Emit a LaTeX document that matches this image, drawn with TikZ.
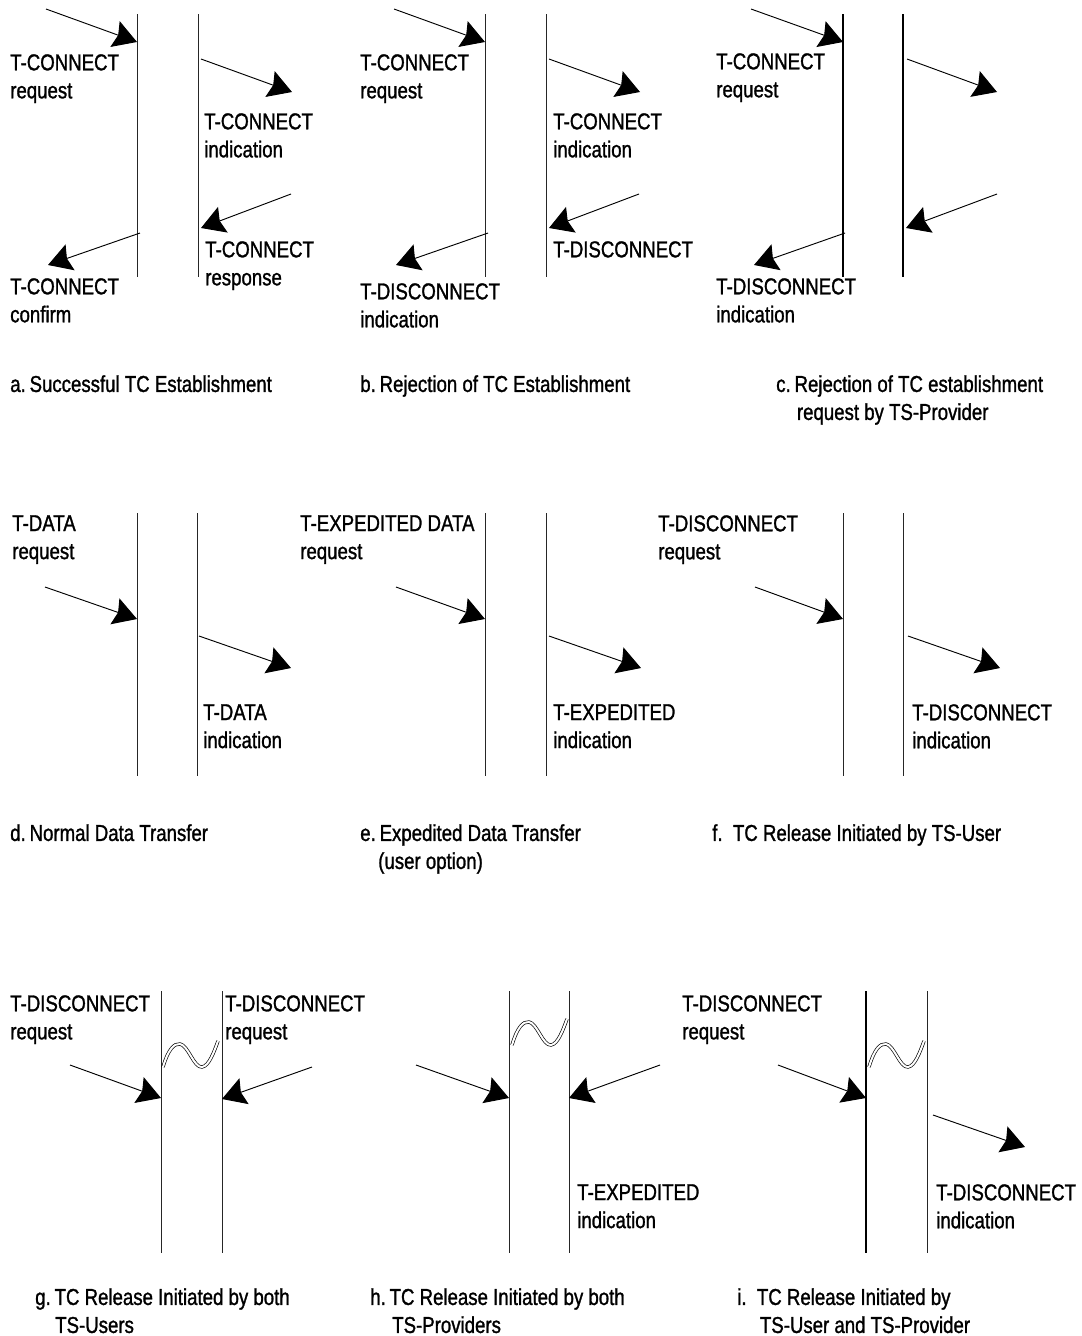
\documentclass[tikz,border=0pt]{standalone}
\usepackage{fontspec}
\setmainfont{Liberation Sans}[FakeStretch=0.81,FakeBold=1.2]
\usetikzlibrary{arrows.meta}
\begin{document}
\begin{tikzpicture}[x=0.75pt,y=-0.75pt,
  life/.style={line width=0.65pt,black!85},
  lifeb/.style={line width=1.6pt},
  msg/.style={line width=0.7pt,-{Stealth[length=17.5pt,width=20.5pt,inset=2.5pt]}},
  lbl/.style={anchor=north west,inner sep=0pt,align=left,font=\fontsize{17.25pt}{21pt}\selectfont},
  wavy/.style={double,double distance=1.5pt,line width=0.5pt}]
\useasboundingbox (0,0) rectangle (1082,1336);

% ---------------- panel a ----------------
\coordinate (aLt) at (137,14); \coordinate (aLb) at (137,277);
\coordinate (aRt) at (198,14); \coordinate (aRb) at (198,277);
\draw[life] (aLt) -- (aLb); \draw[life] (aRt) -- (aRb);
\coordinate (a1s) at (46,9);   \coordinate (a1e) at (137,42);
\coordinate (a2s) at (201,59); \coordinate (a2e) at (292,92);
\coordinate (a3s) at (291,194);\coordinate (a3e) at (201,228);
\coordinate (a4s) at (140,233);\coordinate (a4e) at (48,265);
\draw[msg] (a1s) -- (a1e); \draw[msg] (a2s) -- (a2e);
\draw[msg] (a3s) -- (a3e); \draw[msg] (a4s) -- (a4e);
\node[lbl] (aT1) at (10,54) {T-CONNECT\\request};
\node[lbl] (aT2) at (204,113) {T-CONNECT\\indication};
\node[lbl] (aT3) at (205,241) {T-CONNECT\\response};
\node[lbl] (aT4) at (10,278) {T-CONNECT\\confirm};
\node[lbl] (aCap) at (10,375) {a.\,Successful TC Establishment};

% ---------------- panel b ----------------
\coordinate (bLt) at (485,14); \coordinate (bLb) at (485,277);
\coordinate (bRt) at (546,14); \coordinate (bRb) at (546,277);
\draw[life] (bLt) -- (bLb); \draw[life] (bRt) -- (bRb);
\coordinate (b1s) at (394,9);   \coordinate (b1e) at (485,42);
\coordinate (b2s) at (549,59);  \coordinate (b2e) at (640,92);
\coordinate (b3s) at (639,194); \coordinate (b3e) at (549,228);
\coordinate (b4s) at (488,233); \coordinate (b4e) at (396,265);
\draw[msg] (b1s) -- (b1e); \draw[msg] (b2s) -- (b2e);
\draw[msg] (b3s) -- (b3e); \draw[msg] (b4s) -- (b4e);
\node[lbl] (bT1) at (360,54) {T-CONNECT\\request};
\node[lbl] (bT2) at (553,113) {T-CONNECT\\indication};
\node[lbl] (bT3) at (553,241) {T-DISCONNECT};
\node[lbl] (bT4) at (360,283) {T-DISCONNECT\\indication};
\node[lbl] (bCap) at (360,375) {b.\,Rejection of TC Establishment};

% ---------------- panel c ----------------
\coordinate (cLt) at (843,14); \coordinate (cLb) at (843,277);
\coordinate (cRt) at (903,14); \coordinate (cRb) at (903,277);
\draw[lifeb] (cLt) -- (cLb); \draw[lifeb] (cRt) -- (cRb);
\coordinate (c1s) at (751,9);   \coordinate (c1e) at (843,42);
\coordinate (c2s) at (907,59);  \coordinate (c2e) at (997,92);
\coordinate (c3s) at (997,194); \coordinate (c3e) at (906,228);
\coordinate (c4s) at (845,233); \coordinate (c4e) at (754,265);
\draw[msg] (c1s) -- (c1e); \draw[msg] (c2s) -- (c2e);
\draw[msg] (c3s) -- (c3e); \draw[msg] (c4s) -- (c4e);
\node[lbl] (cT1) at (716,53) {T-CONNECT\\request};
\node[lbl] (cT4) at (716,278) {T-DISCONNECT\\indication};
\node[lbl] (cCap) at (776,375) {c.\,Rejection of TC establishment\\\hspace*{15.5pt}request by TS-Provider};

% ---------------- panel d ----------------
\coordinate (dLt) at (137,513); \coordinate (dLb) at (137,776);
\coordinate (dRt) at (197,513); \coordinate (dRb) at (197,776);
\draw[life] (dLt) -- (dLb); \draw[life] (dRt) -- (dRb);
\coordinate (d1s) at (45,587);  \coordinate (d1e) at (137,619);
\coordinate (d2s) at (199,636); \coordinate (d2e) at (291,668);
\draw[msg] (d1s) -- (d1e); \draw[msg] (d2s) -- (d2e);
\node[lbl] (dT1) at (12,515) {T-DATA\\request};
\node[lbl] (dT2) at (203,704) {T-DATA\\indication};
\node[lbl] (dCap) at (10,824) {d.\,Normal Data Transfer};

% ---------------- panel e ----------------
\coordinate (eLt) at (485,513); \coordinate (eLb) at (485,776);
\coordinate (eRt) at (546,513); \coordinate (eRb) at (546,776);
\draw[life] (eLt) -- (eLb); \draw[life] (eRt) -- (eRb);
\coordinate (e1s) at (396,587); \coordinate (e1e) at (485,619);
\coordinate (e2s) at (549,636); \coordinate (e2e) at (641,668);
\draw[msg] (e1s) -- (e1e); \draw[msg] (e2s) -- (e2e);
\node[lbl] (eT1) at (300,515) {T-EXPEDITED DATA\\request};
\node[lbl] (eT2) at (553,704) {T-EXPEDITED\\indication};
\node[lbl] (eCap) at (360,824) {e.\,Expedited Data Transfer\\\hspace*{13.5pt}(user option)};

% ---------------- panel f ----------------
\coordinate (fLt) at (843,513); \coordinate (fLb) at (843,776);
\coordinate (fRt) at (903,513); \coordinate (fRb) at (903,776);
\draw[life] (fLt) -- (fLb); \draw[life] (fRt) -- (fRb);
\coordinate (f1s) at (755,587); \coordinate (f1e) at (843,619);
\coordinate (f2s) at (908,636); \coordinate (f2e) at (1000,668);
\draw[msg] (f1s) -- (f1e); \draw[msg] (f2s) -- (f2e);
\node[lbl] (fT1) at (658,515) {T-DISCONNECT\\request};
\node[lbl] (fT2) at (912,704) {T-DISCONNECT\\indication};
\node[lbl] (fCap) at (712,824) {f.\ \ TC Release Initiated by TS-User};

% ---------------- panel g ----------------
\coordinate (gLt) at (161,991); \coordinate (gLb) at (161,1253);
\coordinate (gRt) at (222,991); \coordinate (gRb) at (222,1253);
\draw[life] (gLt) -- (gLb); \draw[life] (gRt) -- (gRb);
\coordinate (g1s) at (70,1065);  \coordinate (g1e) at (161,1098);
\coordinate (g2s) at (312,1067); \coordinate (g2e) at (222,1099);
\draw[msg] (g1s) -- (g1e); \draw[msg] (g2s) -- (g2e);
\draw[wavy] (163,1067) .. controls (168,1050) and (174,1043) .. (180,1044)
  .. controls (188,1045) and (194,1068) .. (202,1067)
  .. controls (209,1066) and (214,1052) .. (218,1041);
\node[lbl] (gT1) at (10,995) {T-DISCONNECT\\request};
\node[lbl] (gT2) at (225,995) {T-DISCONNECT\\request};
\node[lbl] (gCap) at (35,1288) {g.\,TC Release Initiated by both\\\hspace*{15pt}TS-Users};

% ---------------- panel h ----------------
\coordinate (hLt) at (509,991); \coordinate (hLb) at (509,1253);
\coordinate (hRt) at (569,991); \coordinate (hRb) at (569,1253);
\draw[life] (hLt) -- (hLb); \draw[life] (hRt) -- (hRb);
\coordinate (h1s) at (416,1065); \coordinate (h1e) at (509,1098);
\coordinate (h2s) at (660,1065); \coordinate (h2e) at (569,1098);
\draw[msg] (h1s) -- (h1e); \draw[msg] (h2s) -- (h2e);
\begin{scope}[shift={(349,-22)}]
\draw[wavy] (163,1067) .. controls (168,1050) and (174,1043) .. (180,1044)
  .. controls (188,1045) and (194,1068) .. (202,1067)
  .. controls (209,1066) and (214,1052) .. (218,1041);
\end{scope}
\node[lbl] (hT2) at (577,1184) {T-EXPEDITED\\indication};
\node[lbl] (hCap) at (370,1288) {h.\,TC Release Initiated by both\\\hspace*{16.5pt}TS-Providers};

% ---------------- panel i ----------------
\coordinate (iLt) at (866,991); \coordinate (iLb) at (866,1253);
\coordinate (iRt) at (927,991); \coordinate (iRb) at (927,1253);
\draw[lifeb] (iLt) -- (iLb); \draw[life] (iRt) -- (iRb);
\coordinate (i1s) at (778,1065); \coordinate (i1e) at (866,1098);
\coordinate (i2s) at (933,1115); \coordinate (i2e) at (1025,1147);
\draw[msg] (i1s) -- (i1e); \draw[msg] (i2s) -- (i2e);
\begin{scope}[shift={(706,0)}]
\draw[wavy] (163,1067) .. controls (168,1050) and (174,1043) .. (180,1044)
  .. controls (188,1045) and (194,1068) .. (202,1067)
  .. controls (209,1066) and (214,1052) .. (218,1041);
\end{scope}
\node[lbl] (iT1) at (682,995) {T-DISCONNECT\\request};
\node[lbl] (iT2) at (936,1184) {T-DISCONNECT\\indication};
\node[lbl] (iCap) at (737,1288) {i.\ \ TC Release Initiated by\\\hspace*{17pt}TS-User and TS-Provider};
\end{tikzpicture}
\end{document}
